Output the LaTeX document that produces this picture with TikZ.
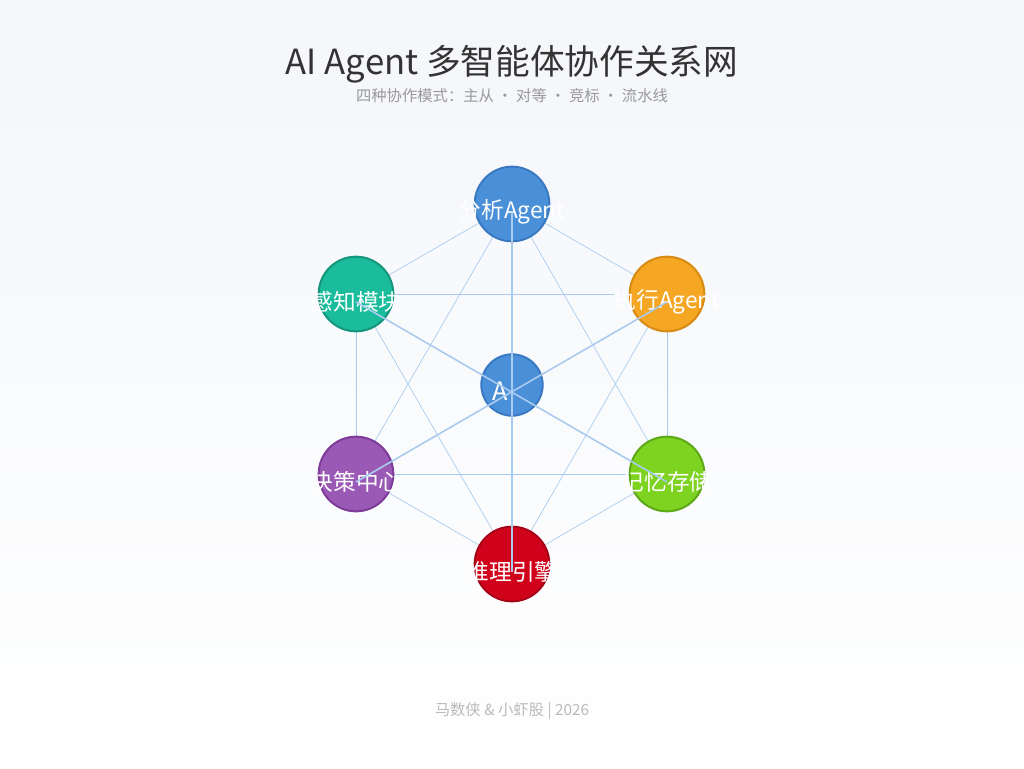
\documentclass[tikz,border=0pt]{standalone}
\usepackage{fontspec}
\setmainfont{Noto Sans CJK SC}
\usetikzlibrary{positioning}

\definecolor{linkblue}{HTML}{A9CBEF}
\definecolor{titlegray}{HTML}{333333}
\definecolor{subgray}{HTML}{999999}
\definecolor{footgray}{HTML}{BBBBBB}
\definecolor{bgtop}{HTML}{F4F6FA}

\tikzset{
    agent/.style={circle, minimum size=#1, inner sep=0pt, line width=1.5pt,
        text=white, font=\fontsize{15}{15}\selectfont},
    link/.style={draw=linkblue, line width=0.5pt},
    spoke/.style={draw=linkblue, line width=1.2pt},
}

\begin{document}
\begin{tikzpicture}[x=0.75pt, y=-0.75pt]

% background
\shade[top color=bgtop, bottom color=white] (0,0) rectangle (1024,768);
\useasboundingbox (0,0) rectangle (1024,768);

% titles
\node[text=titlegray, font=\fontsize{26}{26}\selectfont] (title) at (512,64) {AI Agent 多智能体协作关系网};
\node[text=subgray, font=\fontsize{11.5}{11.5}\selectfont] (subtitle) at (512,96) {四种协作模式：主从 · 对等 · 竞标 · 流水线};
\node[text=footgray, font=\fontsize{11.5}{11.5}\selectfont] (footer) at (512,711) {马数侠 \& 小虾股 | 2026};

% positions: N-0 ... N-5 around, N-c in the middle
\foreach \i / \x / \y in {0/512/204, 1/667/294, 2/667/474, 3/512/564, 4/356/474, 5/356/294}
    \coordinate (N-\i) at (\x,\y);
\coordinate (N-c) at (512,385);

% links between outer agents (neighbours and skip-one)
\foreach \a / \b in {0/1, 1/2, 2/3, 3/4, 4/5, 5/0, 0/2, 1/3, 2/4, 3/5, 4/0, 5/1}
    \path[link] (N-\a) -- (N-\b);

% agents
\foreach \i / \fc / \dc / \txt in {
    0/4A90D9/3A78C2/分析Agent,
    1/F5A623/D88B12/执行Agent,
    2/7ED321/5FA818/记忆存储,
    3/D0021B/A80016/推理引擎,
    4/9B59B6/7D3C98/决策中心,
    5/1ABC9C/14967C/感知模块}
{
    \definecolor{fc}{HTML}{\fc}\definecolor{dc}{HTML}{\dc}
    \node[agent=56pt, fill=fc, draw=dc] (A-\i) at (N-\i) {};
    \node[text=white, font=\fontsize{17}{17}\selectfont] (L-\i) at ([yshift=-6pt]N-\i) {\txt};
}
\definecolor{cc}{HTML}{4A90D9}\definecolor{cd}{HTML}{3A78C2}
\node[agent=46pt, fill=cc, draw=cd] (A-c) at (N-c) {};
\node[text=white, font=\fontsize{19}{19}\selectfont] (L-c) at ([xshift=-9pt,yshift=-5pt]N-c) {A};

% spokes across the hub, drawn on top
\path[spoke] (L-0.center) -- (L-3.center);
\path[spoke] (L-5.center) -- (L-2.center);
\path[spoke] (L-4.center) -- (L-1.center);

\end{tikzpicture}
\end{document}
